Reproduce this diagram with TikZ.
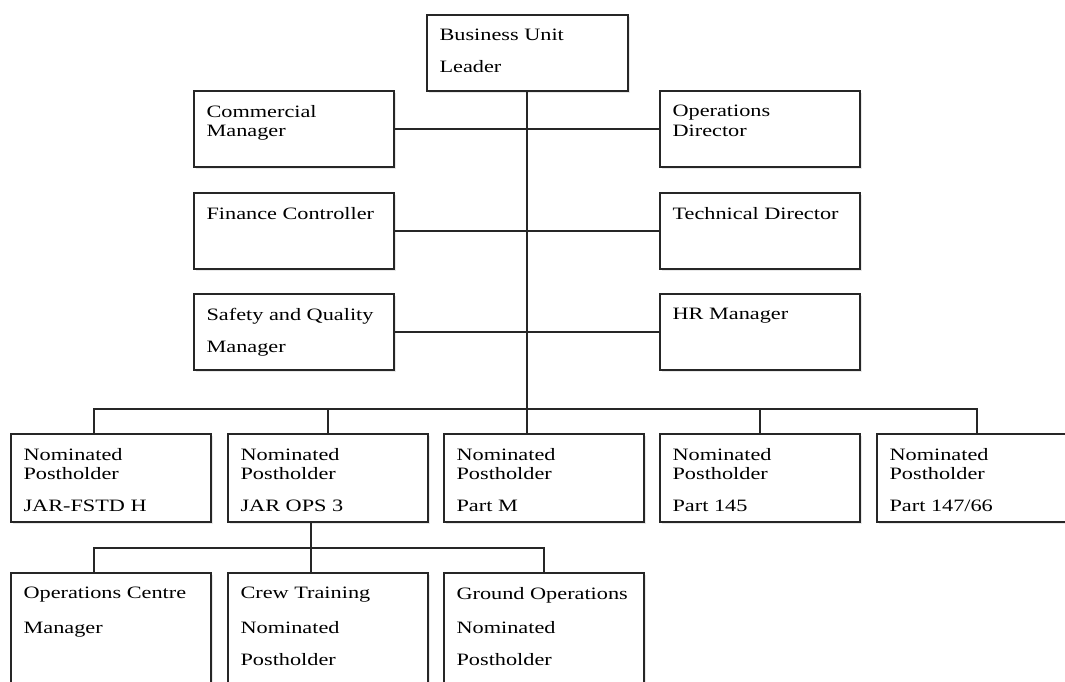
\documentclass[tikz,border=0pt]{standalone}
\usepackage{fontspec}
\setmainfont{Liberation Serif}[FakeStretch=1.28]
\usetikzlibrary{shadows}

\tikzset{
  box/.style={draw=black!85, line width=0.9pt, fill=white,
    minimum width=4cm, minimum height=1.52cm,
    drop shadow={shadow xshift=1pt, shadow yshift=-1pt, opacity=0.18}},
  tall/.style={box, minimum height=1.76cm},
  deep/.style={box, minimum height=2.54cm},
  txt/.style={anchor=north west, inner sep=0pt, align=left,
    xshift=0.26cm, yshift=-0.29cm, font=\fontsize{9.9}{11.3}\selectfont},
  link/.style={draw=black!85, line width=0.9pt}
}

\begin{document}
\begin{tikzpicture}[x=0.02cm, y=-0.02cm]
  \useasboundingbox (0,0) rectangle (1065,682);
  \clip (0,0) rectangle (1065,682);

  % top levels
  \node[box, minimum width=4.02cm] (bul) at (527.5,53) {};
  \node[txt] (bul-t) at (bul.north west) {Business Unit\\[6.8pt]Leader};
  \node[box] (com) at (294,129) {};
  \node[txt] (com-t) at (com.north west) {Commercial\\Manager};
  \node[box] (ops) at (760,129) {};
  \node[txt] (ops-t) at (ops.north west) {Operations\\Director};
  \node[box] (fin) at (294,231) {};
  \node[txt] (fin-t) at (fin.north west) {Finance Controller};
  \node[box] (tech) at (760,231) {};
  \node[txt] (tech-t) at (tech.north west) {Technical Director};
  \node[box] (saf) at (294,332) {};
  \node[txt] (saf-t) at (saf.north west) {Safety and Quality\\[6.8pt]Manager};
  \node[box] (hr) at (760,332) {};
  \node[txt] (hr-t) at (hr.north west) {HR Manager};

  % nominated postholders
  \node[tall] (np1) at (111,478) {};
  \node[txt] (np1-t) at (np1.north west) {Nominated\\Postholder\\[6.8pt]JAR-FSTD H};
  \node[tall] (np2) at (328,478) {};
  \node[txt] (np2-t) at (np2.north west) {Nominated\\Postholder\\[6.8pt]JAR OPS 3};
  \node[tall] (np3) at (544,478) {};
  \node[txt] (np3-t) at (np3.north west) {Nominated\\Postholder\\[6.8pt]Part M};
  \node[tall] (np4) at (760,478) {};
  \node[txt] (np4-t) at (np4.north west) {Nominated\\Postholder\\[6.8pt]Part 145};
  \node[tall] (np5) at (977,478) {};
  \node[txt] (np5-t) at (np5.north west) {Nominated\\Postholder\\[6.8pt]Part 147/66};

  % under JAR OPS 3
  \node[deep] (occ) at (111,636.5) {};
  \node[txt] (occ-t) at (occ.north west) {Operations Centre\\[8.4pt]Manager};
  \node[deep] (crew) at (328,636.5) {};
  \node[txt] (crew-t) at (crew.north west) {Crew Training\\[8.4pt]Nominated\\[6.8pt]Postholder};
  \node[deep] (gnd) at (544,636.5) {};
  \node[txt] (gnd-t) at (gnd.north west) {Ground Operations\\[8.4pt]Nominated\\[6.8pt]Postholder};

  \coordinate (bus2) at (527,409);
  \coordinate (bus3) at (311,548);

  \draw[link] (bul.south -| bus2) -- (np3.north -| bus2);
  \draw[link] (com.east) -- (ops.west);
  \draw[link] (fin.east) -- (tech.west);
  \draw[link] (saf.east) -- (hr.west);

  \draw[link] ([xshift=-0.34cm]np1.north) |- (bus2) -| (np5.north);
  \draw[link] (np2.north) -- (np2.north |- bus2);
  \draw[link] (np4.north) -- (np4.north |- bus2);

  \draw[link] ([xshift=-0.34cm]np2.south) -- ([xshift=-0.34cm]crew.north);
  \draw[link] ([xshift=-0.34cm]occ.north) |- (bus3) -| (gnd.north);
\end{tikzpicture}
\end{document}
